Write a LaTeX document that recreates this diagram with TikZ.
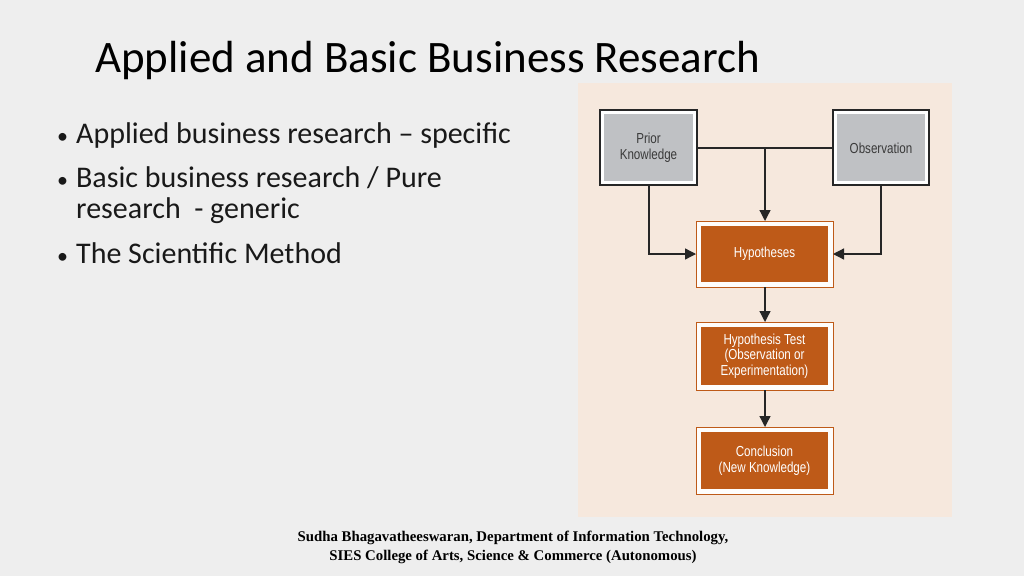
\documentclass[tikz,border=0pt]{standalone}
\usepackage{fontspec}
\setmainfont{Carlito}
\newfontfamily\cond[FakeStretch=0.8]{Liberation Sans}
\newfontfamily\foot{Liberation Serif}
\usetikzlibrary{arrows.meta}
\definecolor{bg}{HTML}{EEEEEE}
\definecolor{panel}{HTML}{F6E8DD}
\definecolor{org}{HTML}{BE5A18}
\definecolor{gry}{HTML}{BFC1C4}
\definecolor{txt}{HTML}{3A3A3A}
\tikzset{
 gbox/.style={draw=black!85,line width=1.2pt,fill=white,inner sep=0pt},
 obox/.style={draw=org,line width=0.8pt,fill=white!90!panel},
 lab/.style={font=\cond\fontsize{14.5}{15.5}\selectfont,align=center},
 conn/.style={draw=black!85,line width=1.3pt},
 arr/.style={conn,-{Triangle[length=11pt,width=11pt]}},
 bul/.style={anchor=west,font=\fontsize{30}{36}\selectfont,text=black!90,align=left,inner sep=0pt}
}
\begin{document}
\begin{tikzpicture}[x=1pt,y=-1pt]
\fill[bg] (0,0) rectangle (1024,576);
\useasboundingbox (0,0) rectangle (1024,576);
\node[anchor=west,inner sep=0pt,font=\fontsize{45}{50}\selectfont] (title) at (95,60) {Applied and Basic Business Research};
\node[bul] (b1) at (57,135) {{\fontsize{22}{26}\selectfont•}\hspace{8pt}Applied business research – specific};
\node[bul] (b2) at (57,178) {{\fontsize{22}{26}\selectfont•}\hspace{8pt}Basic business research / Pure};
\node[bul] (b2b) at (76,211) {research\ \ - generic};
\node[bul] (b3) at (57,253) {{\fontsize{22}{26}\selectfont•}\hspace{8pt}The Scientific Method};
\fill[panel] (578,83) rectangle (952,517);
\draw[gbox] (600,110) rectangle (697,185);
\fill[gry] (604,114) rectangle (693,181);
\node[lab,text=txt] (prior) at (648.5,147.5) {Prior\\Knowledge};
\draw[gbox] (833,110) rectangle (929,185);
\fill[gry] (837,114) rectangle (925,181);
\node[lab,text=txt] (obs) at (881,148) {Observation};
\draw[obox] (696,221) rectangle (833,287); \fill[org] (701,226) rectangle (828,282);
\node[lab,text=white] (hyp) at (764.5,254) {Hypotheses};
\draw[obox] (696,322) rectangle (833,390); \fill[org] (701,327) rectangle (828,385);
\node[lab,text=white] (test) at (764.5,356) {Hypothesis Test\\(Observation or\\Experimentation)};
\draw[obox] (696,427) rectangle (833,494); \fill[org] (701,432) rectangle (828,489);
\node[lab,text=white] (conc) at (764.5,460.5) {Conclusion\\(New Knowledge)};
\coordinate (pr) at (697,148); \coordinate (ol) at (833,148); \coordinate (mid) at (765,148);
\coordinate (ht) at (765,221); \coordinate (hl) at (696,254); \coordinate (hr) at (833,254);
\draw[conn] (pr) -- (ol);
\draw[arr] (mid) -- (ht);
\draw[arr] (649,185) |- (hl);
\draw[arr] (881,185) |- (hr);
\draw[arr] (765,287) -- (765,322);
\draw[arr] (765,390) -- (765,427);
\node[font=\foot\bfseries\fontsize{14.8}{19}\selectfont,align=center] (ft) at (513,547) {Sudha Bhagavatheeswaran, Department of Information Technology,\\SIES College of Arts, Science \& Commerce (Autonomous)};
\end{tikzpicture}
\end{document}
